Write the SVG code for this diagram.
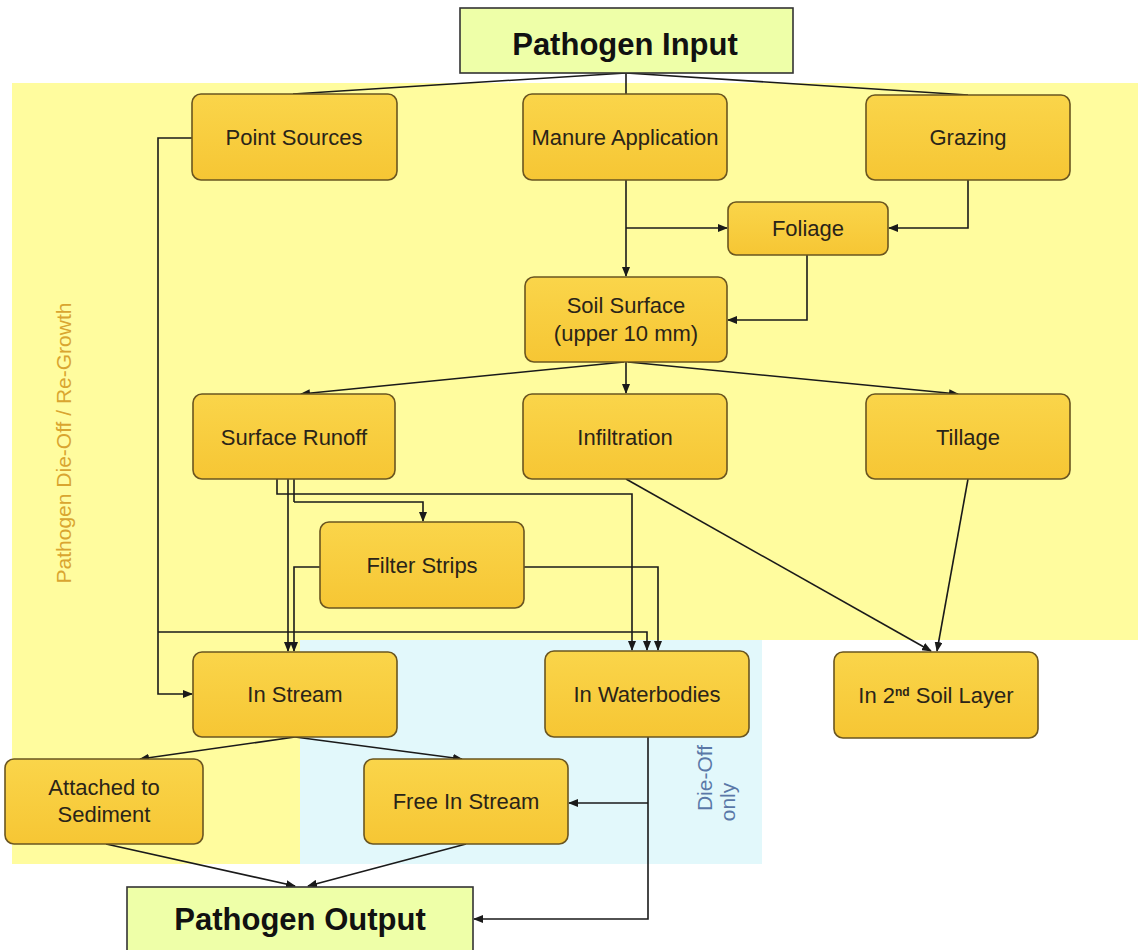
<svg xmlns="http://www.w3.org/2000/svg" width="1138" height="950" viewBox="0 0 1138 950">
<defs>
<marker id="ah" markerWidth="10" markerHeight="8" refX="9" refY="4" orient="auto" markerUnits="userSpaceOnUse">
<path d="M0,0 L10,4 L0,8 Z" fill="#1a1a1a"/>
</marker>
<linearGradient id="ng" x1="0" y1="0" x2="0" y2="1">
<stop offset="0" stop-color="#FAD54A"/>
<stop offset="1" stop-color="#F6C634"/>
</linearGradient>
</defs>
<style>
.node rect{fill:url(#ng);stroke:#6a5520;stroke-width:1.6}
.node text{font-family:"Liberation Sans",Arial,sans-serif;font-size:22px;fill:#2a2418;text-anchor:middle}
.term rect{fill:#EEFFA8;stroke:#333;stroke-width:1.6}
.term text{font-family:"Liberation Sans",Arial,sans-serif;font-size:31px;font-weight:bold;fill:#111;text-anchor:middle}
#connectors path,#connectors line{fill:none;stroke:#1a1a1a;stroke-width:1.6}
.arr{marker-end:url(#ah)}
.side{font-family:"Liberation Sans",Arial,sans-serif;font-size:21px;text-anchor:middle}
</style>
<rect width="1138" height="950" fill="#ffffff"/>
<!-- regions -->
<path d="M12,83 H1138 V640 H300 V864 H12 Z" fill="#FFFC9E"/>
<rect x="300" y="640" width="462" height="224" fill="#E2F8FB"/>
<text class="side" transform="translate(71,443) rotate(-90)" fill="#D9A530" font-size="22">Pathogen Die-Off / Re-Growth</text>
<text class="side" transform="translate(712,778) rotate(-90)" fill="#5A78A8">Die-Off</text>
<text class="side" transform="translate(735,802) rotate(-90)" fill="#5A78A8">only</text>

<g id="connectors">
<line x1="626" y1="73" x2="293" y2="94"/>
<line x1="626" y1="73" x2="626" y2="94"/>
<line x1="626" y1="73" x2="968" y2="95"/>
<path class="arr" d="M192,138 H158 V694 H192"/>
<path class="arr" d="M158,632 H647 V650"/>
<path class="arr" d="M626,180 V276"/>
<path class="arr" d="M626,228 H727"/>
<path class="arr" d="M968,180 V228 H889"/>
<path class="arr" d="M807,255 V320 H728"/>
<line class="arr" x1="624" y1="362" x2="301" y2="394"/>
<line class="arr" x1="626" y1="362" x2="626" y2="393"/>
<line class="arr" x1="628" y1="362" x2="958" y2="394"/>
<path class="arr" d="M277,479 V494 H632 V650"/>
<path class="arr" d="M288,479 V651"/>
<path d="M294,479 V502"/>
<path class="arr" d="M294,502 H423 V521"/>
<path class="arr" d="M320,567 H294 V651"/>
<path class="arr" d="M524,567 H658 V650"/>
<line class="arr" x1="626" y1="479" x2="931" y2="651"/>
<line class="arr" x1="968" y1="479" x2="937" y2="651"/>
<line class="arr" x1="295" y1="737" x2="140" y2="759"/>
<line class="arr" x1="295" y1="737" x2="462" y2="759"/>
<path class="arr" d="M648,737 V919 H474"/>
<path class="arr" d="M648,803 H569"/>
<line class="arr" x1="106" y1="844" x2="295" y2="886"/>
<line class="arr" x1="466" y1="844" x2="308" y2="886"/>
</g>

<g id="n-input" class="term"><rect x="460" y="8" width="333" height="65"/><text x="625" y="55">Pathogen Input</text></g>
<g id="n-point" class="node"><rect x="192" y="94" width="205" height="86" rx="9"/><text x="294" y="145">Point Sources</text></g>
<g id="n-manure" class="node"><rect x="523" y="94" width="204" height="86" rx="9"/><text x="625" y="145">Manure Application</text></g>
<g id="n-grazing" class="node"><rect x="866" y="95" width="204" height="85" rx="9"/><text x="968" y="145">Grazing</text></g>
<g id="n-foliage" class="node"><rect x="728" y="202" width="160" height="53" rx="8"/><text x="808" y="236">Foliage</text></g>
<g id="n-soil" class="node"><rect x="525" y="277" width="202" height="85" rx="9"/><text x="626" y="313">Soil Surface</text><text x="626" y="341">(upper 10 mm)</text></g>
<g id="n-runoff" class="node"><rect x="193" y="394" width="202" height="85" rx="9"/><text x="294" y="445">Surface Runoff</text></g>
<g id="n-infil" class="node"><rect x="523" y="394" width="204" height="85" rx="9"/><text x="625" y="445">Infiltration</text></g>
<g id="n-tillage" class="node"><rect x="866" y="394" width="204" height="85" rx="9"/><text x="968" y="445">Tillage</text></g>
<g id="n-filter" class="node"><rect x="320" y="522" width="204" height="86" rx="9"/><text x="422" y="573">Filter Strips</text></g>
<g id="n-instream" class="node"><rect x="193" y="652" width="204" height="85" rx="9"/><text x="295" y="702">In Stream</text></g>
<g id="n-waterbodies" class="node"><rect x="545" y="651" width="204" height="86" rx="9"/><text x="647" y="702">In Waterbodies</text></g>
<g id="n-soil2" class="node"><rect x="834" y="652" width="204" height="86" rx="9"/><text x="936" y="703">In 2<tspan font-size="12" font-weight="bold" baseline-shift="super">nd</tspan> Soil Layer</text></g>
<g id="n-attached" class="node"><rect x="5" y="759" width="198" height="85" rx="9"/><text x="104" y="795">Attached to</text><text x="104" y="822">Sediment</text></g>
<g id="n-free" class="node"><rect x="364" y="759" width="204" height="85" rx="9"/><text x="466" y="809">Free In Stream</text></g>
<g id="n-output" class="term"><rect x="127" y="887" width="346" height="70"/><text x="300" y="930">Pathogen Output</text></g>
</svg>
